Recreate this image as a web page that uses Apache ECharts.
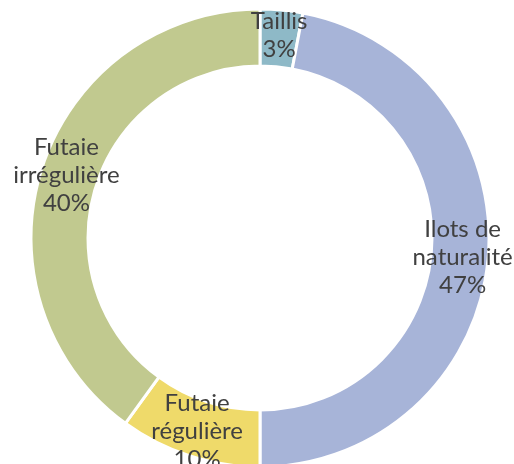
<!DOCTYPE html>
<html>
<head>
<meta charset="utf-8">
<script src="https://cdn.jsdelivr.net/npm/echarts@6/dist/echarts.min.js"></script>
<style>
  html, body { margin: 0; padding: 0; background: #fff; }
  #chart { width: 514px; height: 464px; }
</style>
</head>
<body>
<div id="chart"></div>
<script>
const categories = ['Taillis', 'Ilots de\nnaturalité', 'Futaie\nrégulière', 'Futaie\nirrégulière'];
const values = [3, 47, 10, 40];
const colors = ['#8EB9C7', '#A7B4D8', '#EFDA6A', '#C1C98F'];

const myChart = echarts.init(document.getElementById('chart'));
myChart.setOption({
  animation: false,
  series: [{
    type: 'pie',
    center: [260, 238],
    radius: [172, 229],
    startAngle: 90,
    clockwise: true,
    itemStyle: { borderColor: '#fff', borderWidth: 3 },
    label: {
      show: true,
      position: 'inside',
      formatter: '{b}\n{d}%',
      color: '#404040',
      fontFamily: 'Lato',
      fontSize: 24,
      lineHeight: 28
    },
    labelLine: { show: false },
    data: categories.map((c, i) => ({ name: c, value: values[i], itemStyle: { color: colors[i] } }))
  }]
});
</script>
</body>
</html>
